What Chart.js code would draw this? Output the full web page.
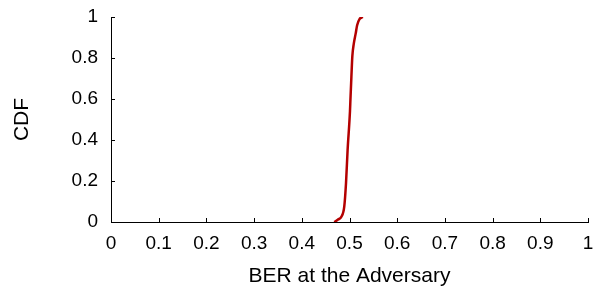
<!DOCTYPE html>
<html>
<head>
<meta charset="utf-8">
<script src="https://cdn.jsdelivr.net/npm/chart.js@4.4.1/dist/chart.umd.min.js"></script>
<style>
  html, body { margin: 0; padding: 0; background: #fff; }
  #wrap { width: 600px; height: 291px; }
</style>
</head>
<body>
<div id="wrap"><canvas id="c"></canvas></div>
<script>
// CDF of BER
const ber = [0.468, 0.476, 0.483, 0.489, 0.4927, 0.496, 0.501, 0.502, 0.504, 0.506, 0.509, 0.513, 0.516, 0.521, 0.528];
const cdf = [0.0, 0.012, 0.026, 0.075, 0.19, 0.35, 0.54, 0.60, 0.71, 0.81, 0.87, 0.92, 0.96, 0.99, 1.0];
const x_ticks = [0, 0.1, 0.2, 0.3, 0.4, 0.5, 0.6, 0.7, 0.8, 0.9, 1];
const y_ticks = [0, 0.2, 0.4, 0.6, 0.8, 1];

const font = { family: 'Liberation Sans, Arial, sans-serif', size: 19 };
const title_font = { family: 'Liberation Sans, Arial, sans-serif', size: 21 };
Chart.defaults.color = '#000';

// small tick marks pointing into the plot
const inner_ticks = {
    id: 'inner_ticks',
    afterDraw(chart) {
        const ctx = chart.ctx;
        const xs = chart.scales.x, ys = chart.scales.y;
        const area = chart.chartArea;
        ctx.save();
        ctx.strokeStyle = '#000';
        ctx.lineWidth = 1;
        ctx.beginPath();
        x_ticks.forEach(v => {
            const px = Math.round(xs.getPixelForValue(v)) + 0.5;
            ctx.moveTo(px, area.bottom);
            ctx.lineTo(px, area.bottom - 4);
        });
        y_ticks.forEach(v => {
            const py = Math.round(ys.getPixelForValue(v)) + 0.5;
            ctx.moveTo(area.left, py);
            ctx.lineTo(area.left + 4, py);
        });
        ctx.stroke();
        ctx.restore();
    }
};

new Chart(document.getElementById('c'), {
    type: 'line',
    data: {
        datasets: [{
            data: ber.map((b, i) => ({ x: b, y: cdf[i] })),
            borderColor: '#b40000',
            borderWidth: 2.5,
            pointRadius: 0,
            cubicInterpolationMode: 'monotone',
            fill: false
        }]
    },
    options: {
        animation: false,
        responsive: true,
        maintainAspectRatio: false,
        layout: { padding: { top: 17, right: 12, left: 0, bottom: 0 } },
        plugins: {
            legend: { display: false },
            tooltip: { enabled: false }
        },
        scales: {
            x: {
                type: 'linear',
                min: 0,
                max: 1,
                afterBuildTicks: s => { s.ticks = x_ticks.map(v => ({ value: v })); },
                afterFit: s => { s.height = 69; s.paddingLeft = 0; s.paddingRight = 0; },
                grid: { display: true, drawOnChartArea: false, drawTicks: false },
                border: { display: true, color: '#000', width: 1 },
                ticks: { font: font, padding: 10, maxRotation: 0, autoSkip: false,
                         callback: v => String(v) },
                title: { display: true, text: 'BER at the Adversary', font: title_font, padding: { top: 0, bottom: 2 } }
            },
            y: {
                type: 'linear',
                min: 0,
                max: 1,
                afterBuildTicks: s => { s.ticks = y_ticks.map(v => ({ value: v })); },
                afterFit: s => { s.width = 111; s.paddingTop = 0; s.paddingBottom = 0; },
                grid: { display: true, drawOnChartArea: false, drawTicks: false },
                border: { display: true, color: '#000', width: 1 },
                ticks: { font: font, padding: 13, autoSkip: false,
                         callback: v => String(v) },
                title: { display: true, text: 'CDF', font: title_font, padding: { top: 10, bottom: 0 } }
            }
        }
    },
    plugins: [inner_ticks]
});
</script>
</body>
</html>
